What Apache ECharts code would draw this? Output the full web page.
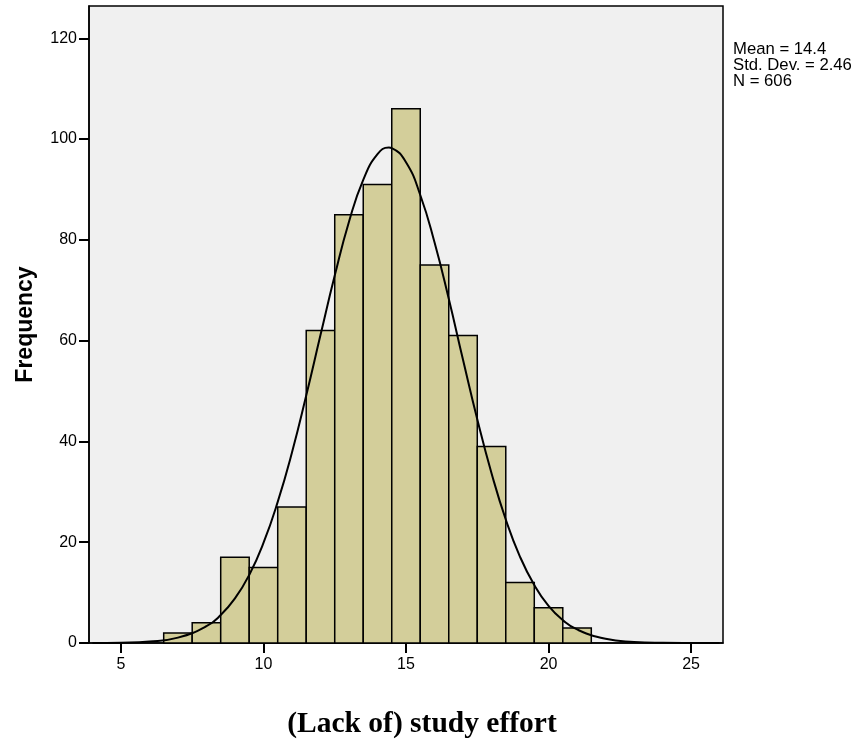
<!DOCTYPE html>
<html>
<head>
<meta charset="utf-8">
<script src="https://cdn.jsdelivr.net/npm/echarts@6/dist/echarts.min.js"></script>
<style>
  html, body { margin: 0; padding: 0; background: #fff; }
  #chart { width: 860px; height: 745px; }
</style>
</head>
<body>
<div id="chart"></div>
<script>
/**
 * DATA
 */
var binCenters = [7, 8, 9, 10, 11, 12, 13, 14, 15, 16, 17, 18, 19, 20, 21];
var frequencies = [2, 4, 17, 15, 27, 62, 85, 91, 106, 75, 61, 39, 12, 7, 3];

// fitted normal curve
var curveX = [4, 5, 6, 7, 8, 8.5, 9, 9.5, 10, 10.5, 11, 11.5, 12, 12.5, 13, 13.5, 14, 14.4,
    14.5, 15, 15.5, 16, 16.5, 17, 17.5, 18, 18.5, 19, 19.5, 20, 20.5, 21, 22, 23, 24, 25, 26];
var curveY = [0.01, 0.07, 0.29, 1.07, 3.33, 5.54, 8.84, 13.5, 19.85, 28.0, 37.8, 49.1, 61.1, 72.9, 83.6, 91.9, 97.0, 98.3,
    98.2, 95.4, 88.9, 79.5, 68.3, 56.2, 44.4, 33.7, 24.5, 17.1, 11.5, 7.37, 4.54, 2.69, 0.83, 0.22, 0.05, 0.01, 0];

var xTicks = [5, 10, 15, 20, 25];
var yTicks = [0, 20, 40, 60, 80, 100, 120];
var xTitle = '(Lack of) study effort';
var statsLines = ['Mean = 14.4', 'Std. Dev. = 2.46', 'N = 606'];

/**
 * CHART
 */
var chart = echarts.init(document.getElementById('chart'));

var barData = binCenters.map(function (c, i) {
    return [c, frequencies[i]];
});
var curveData = curveX.map(function (x, i) {
    return [x, curveY[i]];
});

var option = {
    animation: false,
    textStyle: {fontFamily: 'Liberation Sans, Arial, sans-serif'},
    grid: {
        left: 89, top: 6, right: 137, bottom: 102,
        outerBoundsMode: 'none',
        containLabel: false,
        show: true,
        backgroundColor: '#f0f0f0',
        borderColor: '#000',
        borderWidth: 1.5
    },
    xAxis: {
        type: 'value',
        min: 3.88,
        max: 26.12,
        splitLine: {show: false},
        axisLine: {show: true, onZero: false, lineStyle: {color: '#000', width: 1.5}},
        axisTick: {show: true, length: 10, customValues: xTicks, lineStyle: {color: '#000', width: 2}},
        axisLabel: {customValues: xTicks, color: '#000', fontSize: 16, margin: 14}
    },
    yAxis: {
        type: 'value',
        min: 0,
        max: 126.4,
        name: 'Frequency',
        nameLocation: 'middle',
        nameGap: 52,
        nameTextStyle: {
            fontWeight: 'bold',
            fontSize: 23,
            color: '#000'
        },
        splitLine: {show: false},
        axisLine: {show: true, lineStyle: {color: '#000', width: 1.5}},
        axisTick: {show: true, length: 10, customValues: yTicks, lineStyle: {color: '#000', width: 2}},
        axisLabel: {customValues: yTicks, color: '#000', fontSize: 16, margin: 12}
    },
    graphic: [
        {
            type: 'text',
            x: 422,
            y: 724,
            style: {
                text: xTitle,
                font: 'bold 29.5px Liberation Serif, Times New Roman, serif',
                textAlign: 'center',
                textVerticalAlign: 'middle',
                fill: '#000'
            }
        },
        {
            type: 'text',
            left: 733,
            top: 41,
            style: {
                text: statsLines.join('\n'),
                font: '16.7px Liberation Sans, Arial, sans-serif',
                lineHeight: 16,
                fill: '#000'
            }
        }
    ],
    series: [
        {
            type: 'custom',
            data: barData,
            renderItem: function (params, api) {
                var c = api.value(0);
                var v = api.value(1);
                var p0 = api.coord([c - 0.5, v]);
                var p1 = api.coord([c + 0.5, 0]);
                return {
                    type: 'rect',
                    shape: {x: p0[0], y: p0[1], width: p1[0] - p0[0], height: p1[1] - p0[1]},
                    style: {fill: '#d3ce9a', stroke: '#000', lineWidth: 1.5}
                };
            },
            z: 2
        },
        {
            type: 'line',
            data: curveData,
            smooth: true,
            showSymbol: false,
            lineStyle: {color: '#000', width: 2},
            z: 3
        }
    ]
};
chart.setOption(option);
</script>
</body>
</html>
